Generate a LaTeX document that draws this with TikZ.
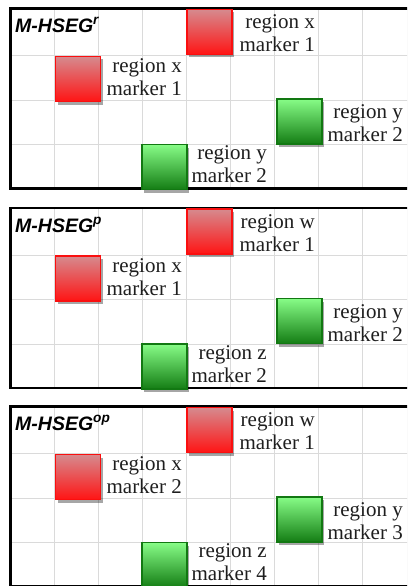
\documentclass[tikz,border=0pt]{standalone}
\usepackage{fontspec}
\setmainfont{Liberation Serif}
\newfontfamily\titlefont{Liberation Sans}
\usetikzlibrary{shadows}
\definecolor{redtop}{RGB}{214,138,142}
\definecolor{redbot}{RGB}{255,20,20}
\definecolor{redline}{RGB}{250,15,15}
\definecolor{greentop}{RGB}{135,252,135}
\definecolor{greenbot}{RGB}{20,125,20}
\definecolor{greenline}{RGB}{18,120,18}
\definecolor{gridgray}{RGB}{218,218,218}
\definecolor{txt}{RGB}{30,30,30}
\begin{document}
\begin{tikzpicture}[x=1pt,y=-1pt,
  boxbase/.style={minimum width=45pt, minimum height=45pt, inner sep=0pt, line width=1.4pt,
    drop shadow={shadow xshift=2pt, shadow yshift=-3pt, fill=black, opacity=0.35}},
  redbox/.style={boxbase, draw=redline, top color=redtop, bottom color=redbot},
  greenbox/.style={boxbase, draw=greenline, top color=greentop, bottom color=greenbot},
  lbl/.style={anchor=base east, inner sep=0pt, align=right, text=txt,
    font=\fontsize{21}{23}\selectfont},
  ttl/.style={anchor=base west, inner sep=0pt, font=\titlefont\bfseries\itshape\fontsize{19.5}{21}\selectfont},
  gridline/.style={draw=gridgray, line width=0.8pt},
  frameline/.style={draw=black, line width=2.6pt}
]
\useasboundingbox (0,0) rectangle (407,586);
\clip (0,0) rectangle (407,586);

\foreach \T/\n/\sup/\la/\lb/\lc/\ld in {
  8.5/1/r/{region x\\marker 1}/{region x\\marker 1}/{region y\\marker 2}/{region y\\marker 2},
  208/2/p/{region w\\marker 1}/{region x\\marker 1}/{region y\\marker 2}/{region z\\marker 2},
  406.5/3/op/{region w\\marker 1}/{region x\\marker 2}/{region y\\marker 3}/{region z\\marker 4}} {
  % grid
  \foreach \k in {1,...,9} {
    \draw[gridline] (10+44.1*\k,\T) -- (10+44.1*\k,\T+180);
  }
  \foreach \yy in {47,91.5,136} {
    \draw[gridline] (10,\T+\yy) -- (420,\T+\yy);
  }
  % frame
  \draw[frameline] (10.5,\T) rectangle (430,\T+180);
  % title
  \node[ttl] (title\n) at (15,\T+24) {M-HSEG\textsuperscript{\sup}};
  % boxes
  \node[redbox] (ra\n) at (209.5,\T+23.5) {};
  \node[redbox] (rb\n) at (78,\T+70.5) {};
  \node[greenbox] (ga\n) at (299.5,\T+113) {};
  \node[greenbox] (gb\n) at (164.5,\T+158.5) {};
  % labels (anchored at the baseline of the second line)
  \node[lbl] (la\n) at (315,\T+43) {\la};
  \node[lbl] (lb\n) at (182,\T+87) {\lb};
  \node[lbl] (lc\n) at (403,\T+133) {\lc};
  \node[lbl] (ld\n) at (267,\T+174) {\ld};
}
\end{tikzpicture}
\end{document}
